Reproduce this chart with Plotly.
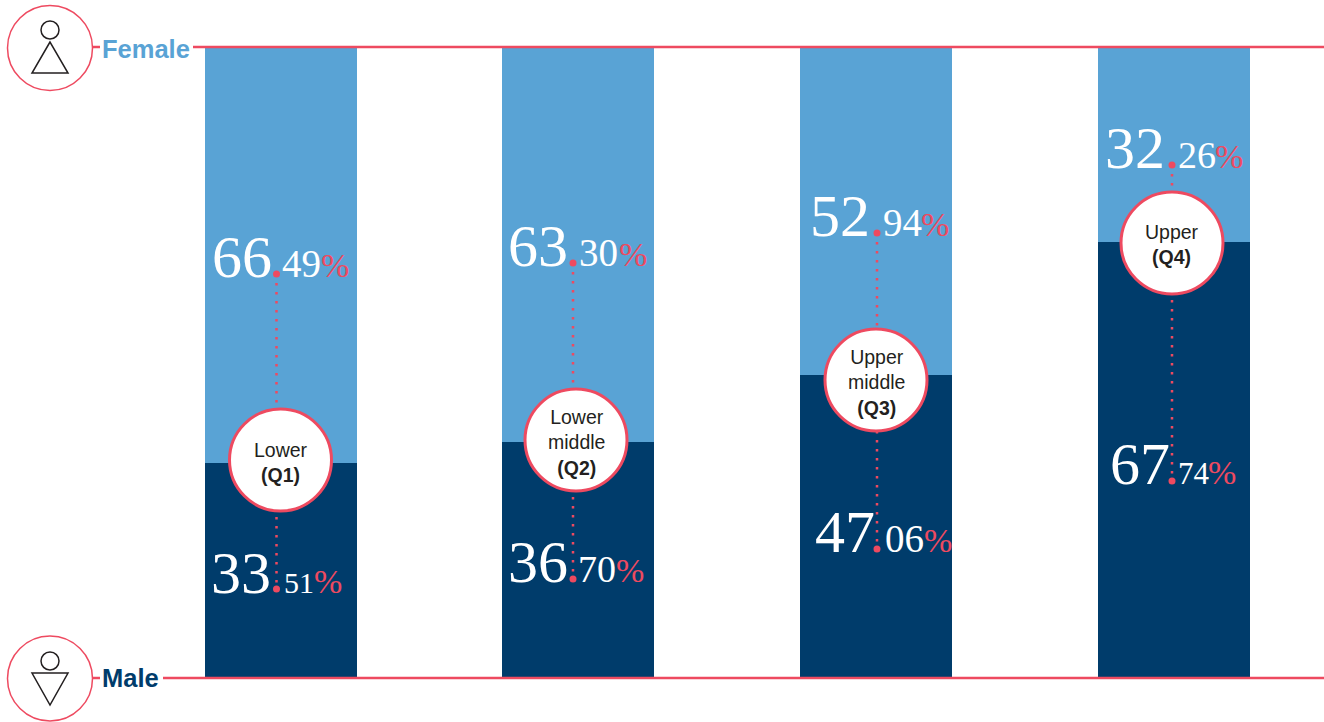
import plotly.graph_objects as go

# Pay quartile shares, in percent
quartiles = ["Lower (Q1)", "Lower middle (Q2)", "Upper middle (Q3)", "Upper (Q4)"]
female_share = [66.49, 63.30, 52.94, 32.26]
male_share = [33.51, 36.70, 47.06, 67.74]
bubble_labels = [
    "Lower<br><b>(Q1)</b>",
    "Lower<br>middle<br><b>(Q2)</b>",
    "Upper<br>middle<br><b>(Q3)</b>",
    "Upper<br><b>(Q4)</b>",
]
female_parts = [("66", "49"), ("63", "30"), ("52", "94"), ("32", "26")]
male_parts = [("33", "51"), ("36", "70"), ("47", "06"), ("67", "74")]

WIDTH, HEIGHT = 1324, 722
PLOT_TOP, PLOT_BOTTOM = 47, 678
RED = "#EE4A60"
LIGHT = "#59A3D5"
DARK = "#003C6B"
INK = "#231F20"
SERIF = "Liberation Serif"
SANS = "Liberation Sans"


def px(x):
    return x / WIDTH


def py(y):
    return (PLOT_BOTTOM - y) / (PLOT_BOTTOM - PLOT_TOP)


fig = go.Figure()
fig.add_bar(x=quartiles, y=male_share, name="Male", marker_color=DARK, marker_line_width=0)
fig.add_bar(x=quartiles, y=female_share, name="Female", marker_color=LIGHT, marker_line_width=0)

shapes = []


def line(x0, y0, x1, y1, color=RED, width=2.5, dash=None):
    spec = dict(color=color, width=width)
    if dash:
        spec["dash"] = dash
    shapes.append(dict(type="line", xref="paper", yref="paper", layer="above",
                       x0=px(x0), y0=py(y0), x1=px(x1), y1=py(y1), line=spec))


def circle(cx, cy, r, color=RED, width=3, fill="white"):
    shapes.append(dict(type="circle", xref="paper", yref="paper", layer="above",
                       x0=px(cx - r), x1=px(cx + r), y0=py(cy + r), y1=py(cy - r),
                       fillcolor=fill, line=dict(color=color, width=width)))


def triangle(a, b, c):
    path = "M {} {} L {} {} L {} {} Z".format(px(a[0]), py(a[1]), px(b[0]), py(b[1]), px(c[0]), py(c[1]))
    shapes.append(dict(type="path", xref="paper", yref="paper", layer="above", path=path,
                       line=dict(color=INK, width=1.5)))


# Reference rules at the 100% and 0% edges
line(193, 47, WIDTH, 47)
line(163, 678, WIDTH, 678)
line(93, 47, 100, 47)
line(93, 678, 100, 678)

# Gender badges
circle(50, 48, 42.5, width=1.5)
circle(50, 678.5, 42.5, width=1.5)
circle(50, 30, 9, color=INK, width=1.5, fill="rgba(0,0,0,0)")
triangle((50, 42), (32, 73), (68, 73))
circle(50, 661, 9, color=INK, width=1.5, fill="rgba(0,0,0,0)")
triangle((32, 673), (68, 673), (50, 705))

# Connector geometry for each quartile: x, upper dot, lower dot, bubble centre
connector_x = [276.5, 573, 877, 1172]
upper_dot = [274, 263, 233, 165]
lower_dot = [589, 579, 549, 481]
bubble_x = [280.5, 576, 876, 1172]
bubble_y = [460, 440, 380, 243]

for i in range(4):
    line(connector_x[i], upper_dot[i], connector_x[i], lower_dot[i], dash="2.5px,6.5px")
    for y in (upper_dot[i], lower_dot[i]):
        circle(connector_x[i], y, 3.5, width=0, fill=RED)
    circle(bubble_x[i], bubble_y[i], 51, width=3)

annotations = []


def text(s, x, baseline, size, color, family, anchor="left"):
    # Place the text box so that its baseline lands on the given pixel row
    descent = 0.216 * size
    annotations.append(dict(text=s, xref="paper", yref="paper", x=px(x), y=py(baseline + descent),
                            xanchor=anchor, yanchor="bottom", showarrow=False,
                            borderpad=0, borderwidth=0,
                            font=dict(size=size, color=color, family=family)))


BIG, PCT = 60, 34

# Pixel layout of each value label: whole part right edge, baseline, decimals left, decimals size, % left
female_layout = [(272, 277, 282, 39, 321), (568, 266, 579, 39, 619), (870, 236, 883, 39, 921), (1165, 168, 1178, 38, 1215)]
male_layout = [(271, 593, 284, 30, 314), (568, 582, 578, 38, 616), (875, 552, 885, 39, 924), (1170, 484, 1178, 31, 1208)]

for parts, layout in ((female_parts, female_layout), (male_parts, male_layout)):
    for (whole, frac), (right, base, frac_x, frac_size, pct_x) in zip(parts, layout):
        text(whole, right, base, BIG, "white", SERIF, "right")
        text(frac, frac_x, base, frac_size, "white", SERIF)
        text("%", pct_x, base, PCT, RED, SERIF)

for i, label in enumerate(bubble_labels):
    annotations.append(dict(text=label, xref="paper", yref="paper", x=px(bubble_x[i]), y=py(bubble_y[i] + 2),
                            xanchor="center", yanchor="middle", showarrow=False, align="center",
                            font=dict(size=19.5, color=INK, family=SANS)))

annotations.append(dict(text="<b>Female</b>", xref="paper", yref="paper", x=px(100), y=py(49),
                        xanchor="left", yanchor="middle", showarrow=False,
                        font=dict(size=25.5, color=LIGHT, family=SANS)))
annotations.append(dict(text="<b>Male</b>", xref="paper", yref="paper", x=px(100), y=py(678),
                        xanchor="left", yanchor="middle", showarrow=False,
                        font=dict(size=25.5, color=DARK, family=SANS)))

UNIT = 297.67  # pixels between neighbouring bars
FIRST_BAR = 280.8  # pixel centre of the first bar
fig.update_layout(
    width=WIDTH, height=HEIGHT, barmode="stack", bargap=1 - 152 / UNIT,
    showlegend=False, paper_bgcolor="white", plot_bgcolor="white",
    margin=dict(l=0, r=0, t=PLOT_TOP, b=HEIGHT - PLOT_BOTTOM, pad=0),
    shapes=shapes, annotations=annotations,
    xaxis=dict(visible=False, type="category", range=[-FIRST_BAR / UNIT, (WIDTH - FIRST_BAR) / UNIT]),
    yaxis=dict(visible=False, range=[0, (PLOT_BOTTOM - PLOT_TOP) / 6.43]),
)

fig.write_html("out.html", config=dict(displayModeBar=False))
